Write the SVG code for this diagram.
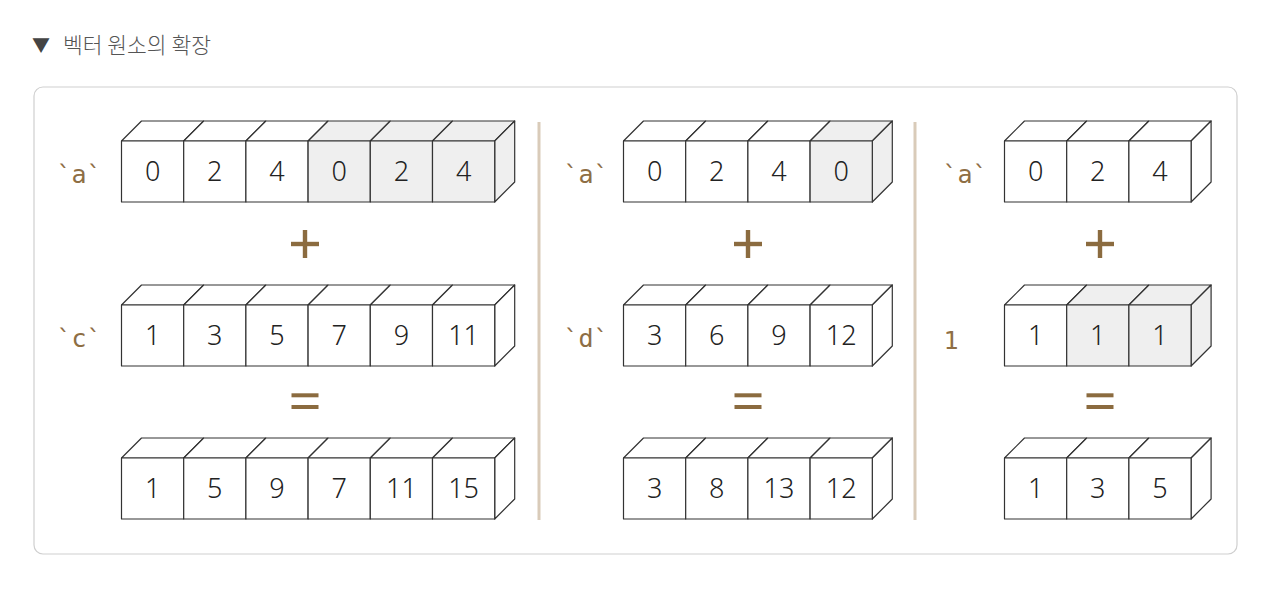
<svg xmlns="http://www.w3.org/2000/svg" xmlns:xlink="http://www.w3.org/1999/xlink" width="1266" height="610" viewBox="0 0 1266 610">
<style>
.f{fill:#fff;stroke:#333;stroke-width:1.2;stroke-linejoin:round}
.g{fill:#efefef;stroke:#333;stroke-width:1.2;stroke-linejoin:round}
.n{font-family:"Noto Sans","Liberation Sans",sans-serif;font-weight:300;font-size:27px;fill:#222;text-anchor:middle}
.lb{font-family:"DejaVu Sans Mono","Liberation Mono",monospace;font-size:25px;fill:#8E6E44;text-anchor:middle}
.op{fill:#8B6B3F}
.sep{stroke:#d9cbb9;stroke-width:3}
</style>
<defs>
<rect id="fr" width="62.2" height="61"/>
<polygon id="tp" points="0,0 20,-20 82.2,-20 62.2,0"/>
<polygon id="sd" points="0,0 20,-20 20,41 0,61"/>
</defs>
<rect width="1266" height="610" fill="#fff"/>
<g id="title">
<text x="32" y="52" font-family="'Noto Sans CJK KR','DejaVu Sans',sans-serif" font-size="18" fill="#444">▼</text>
<text x="63" y="53" font-family="'Noto Sans CJK KR',sans-serif" font-size="21.5" font-weight="300" fill="#555">벡터 원소의 확장</text>
</g>
<rect id="frame" x="34" y="87" width="1203" height="467" rx="9" fill="#fff" stroke="#cfcfcf" stroke-width="1.2"/>
<g id="separators">
<line class="sep" x1="539" y1="122" x2="539" y2="520"/>
<line class="sep" x1="915" y1="122" x2="915" y2="520"/>
</g>

<!-- Left block -->
<g id="left-a" transform="translate(121.5,141)">
<use href="#tp" x="0" class="f"/><use href="#tp" x="62.2" class="f"/><use href="#tp" x="124.4" class="f"/>
<use href="#tp" x="186.6" class="g"/><use href="#tp" x="248.8" class="g"/><use href="#tp" x="311" class="g"/>
<use href="#sd" x="373.2" class="g"/>
<use href="#fr" x="0" class="f"/><use href="#fr" x="62.2" class="f"/><use href="#fr" x="124.4" class="f"/>
<use href="#fr" x="186.6" class="g"/><use href="#fr" x="248.8" class="g"/><use href="#fr" x="311" class="g"/>
<text class="n" x="31.1" y="40">0</text><text class="n" x="93.3" y="40">2</text><text class="n" x="155.5" y="40">4</text>
<text class="n" x="217.7" y="40">0</text><text class="n" x="279.9" y="40">2</text><text class="n" x="342.1" y="40">4</text>
</g>
<g id="left-c" transform="translate(121.5,305)">
<use href="#tp" x="0" class="f"/><use href="#tp" x="62.2" class="f"/><use href="#tp" x="124.4" class="f"/>
<use href="#tp" x="186.6" class="f"/><use href="#tp" x="248.8" class="f"/><use href="#tp" x="311" class="f"/>
<use href="#sd" x="373.2" class="f"/>
<use href="#fr" x="0" class="f"/><use href="#fr" x="62.2" class="f"/><use href="#fr" x="124.4" class="f"/>
<use href="#fr" x="186.6" class="f"/><use href="#fr" x="248.8" class="f"/><use href="#fr" x="311" class="f"/>
<text class="n" x="31.1" y="40">1</text><text class="n" x="93.3" y="40">3</text><text class="n" x="155.5" y="40">5</text>
<text class="n" x="217.7" y="40">7</text><text class="n" x="279.9" y="40">9</text><text class="n" x="342.1" y="40">11</text>
</g>
<g id="left-result" transform="translate(121.5,458)">
<use href="#tp" x="0" class="f"/><use href="#tp" x="62.2" class="f"/><use href="#tp" x="124.4" class="f"/>
<use href="#tp" x="186.6" class="f"/><use href="#tp" x="248.8" class="f"/><use href="#tp" x="311" class="f"/>
<use href="#sd" x="373.2" class="f"/>
<use href="#fr" x="0" class="f"/><use href="#fr" x="62.2" class="f"/><use href="#fr" x="124.4" class="f"/>
<use href="#fr" x="186.6" class="f"/><use href="#fr" x="248.8" class="f"/><use href="#fr" x="311" class="f"/>
<text class="n" x="31.1" y="40">1</text><text class="n" x="93.3" y="40">5</text><text class="n" x="155.5" y="40">9</text>
<text class="n" x="217.7" y="40">7</text><text class="n" x="279.9" y="40">11</text><text class="n" x="342.1" y="40">15</text>
</g>
<g id="left-labels">
<text class="lb" x="79" y="183">`a`</text>
<text class="lb" x="79" y="347">`c`</text>
</g>
<g id="left-ops" class="op">
<rect x="291" y="241.8" width="28" height="4.4"/><rect x="302.8" y="230" width="4.4" height="28"/>
<rect x="291.5" y="393.3" width="27" height="4"/><rect x="291.5" y="405" width="27" height="4"/>
</g>

<!-- Middle block -->
<g id="mid-a" transform="translate(623.5,141)">
<use href="#tp" x="0" class="f"/><use href="#tp" x="62.2" class="f"/><use href="#tp" x="124.4" class="f"/>
<use href="#tp" x="186.6" class="g"/>
<use href="#sd" x="248.8" class="g"/>
<use href="#fr" x="0" class="f"/><use href="#fr" x="62.2" class="f"/><use href="#fr" x="124.4" class="f"/>
<use href="#fr" x="186.6" class="g"/>
<text class="n" x="31.1" y="40">0</text><text class="n" x="93.3" y="40">2</text><text class="n" x="155.5" y="40">4</text>
<text class="n" x="217.7" y="40">0</text>
</g>
<g id="mid-d" transform="translate(623.5,305)">
<use href="#tp" x="0" class="f"/><use href="#tp" x="62.2" class="f"/><use href="#tp" x="124.4" class="f"/>
<use href="#tp" x="186.6" class="f"/>
<use href="#sd" x="248.8" class="f"/>
<use href="#fr" x="0" class="f"/><use href="#fr" x="62.2" class="f"/><use href="#fr" x="124.4" class="f"/>
<use href="#fr" x="186.6" class="f"/>
<text class="n" x="31.1" y="40">3</text><text class="n" x="93.3" y="40">6</text><text class="n" x="155.5" y="40">9</text>
<text class="n" x="217.7" y="40">12</text>
</g>
<g id="mid-result" transform="translate(623.5,458)">
<use href="#tp" x="0" class="f"/><use href="#tp" x="62.2" class="f"/><use href="#tp" x="124.4" class="f"/>
<use href="#tp" x="186.6" class="f"/>
<use href="#sd" x="248.8" class="f"/>
<use href="#fr" x="0" class="f"/><use href="#fr" x="62.2" class="f"/><use href="#fr" x="124.4" class="f"/>
<use href="#fr" x="186.6" class="f"/>
<text class="n" x="31.1" y="40">3</text><text class="n" x="93.3" y="40">8</text><text class="n" x="155.5" y="40">13</text>
<text class="n" x="217.7" y="40">12</text>
</g>
<g id="mid-labels">
<text class="lb" x="586" y="183">`a`</text>
<text class="lb" x="586" y="347">`d`</text>
</g>
<g id="mid-ops" class="op">
<rect x="734" y="241.8" width="28" height="4.4"/><rect x="745.8" y="230" width="4.4" height="28"/>
<rect x="734.5" y="393.3" width="27" height="4"/><rect x="734.5" y="405" width="27" height="4"/>
</g>

<!-- Right block -->
<g id="right-a" transform="translate(1004.5,141)">
<use href="#tp" x="0" class="f"/><use href="#tp" x="62.2" class="f"/><use href="#tp" x="124.4" class="f"/>
<use href="#sd" x="186.6" class="f"/>
<use href="#fr" x="0" class="f"/><use href="#fr" x="62.2" class="f"/><use href="#fr" x="124.4" class="f"/>
<text class="n" x="31.1" y="40">0</text><text class="n" x="93.3" y="40">2</text><text class="n" x="155.5" y="40">4</text>
</g>
<g id="right-one" transform="translate(1004.5,305)">
<use href="#tp" x="0" class="f"/><use href="#tp" x="62.2" class="g"/><use href="#tp" x="124.4" class="g"/>
<use href="#sd" x="186.6" class="g"/>
<use href="#fr" x="0" class="f"/><use href="#fr" x="62.2" class="g"/><use href="#fr" x="124.4" class="g"/>
<text class="n" x="31.1" y="40">1</text><text class="n" x="93.3" y="40">1</text><text class="n" x="155.5" y="40">1</text>
</g>
<g id="right-result" transform="translate(1004.5,458)">
<use href="#tp" x="0" class="f"/><use href="#tp" x="62.2" class="f"/><use href="#tp" x="124.4" class="f"/>
<use href="#sd" x="186.6" class="f"/>
<use href="#fr" x="0" class="f"/><use href="#fr" x="62.2" class="f"/><use href="#fr" x="124.4" class="f"/>
<text class="n" x="31.1" y="40">1</text><text class="n" x="93.3" y="40">3</text><text class="n" x="155.5" y="40">5</text>
</g>
<g id="right-labels">
<text class="lb" x="965" y="183">`a`</text>
<text class="lb" x="951" y="349">1</text>
</g>
<g id="right-ops" class="op">
<rect x="1086" y="241.8" width="28" height="4.4"/><rect x="1097.8" y="230" width="4.4" height="28"/>
<rect x="1086.5" y="393.3" width="27" height="4"/><rect x="1086.5" y="405" width="27" height="4"/>
</g>
</svg>
